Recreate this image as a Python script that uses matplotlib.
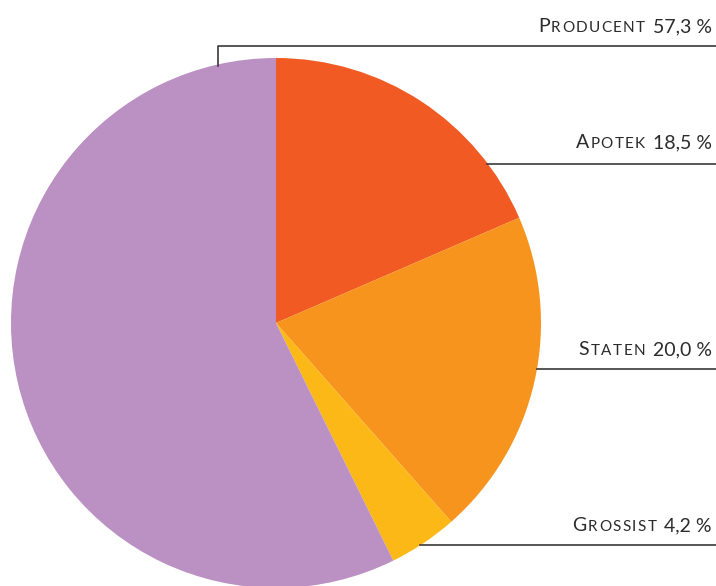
import matplotlib
matplotlib.use("Agg")
import matplotlib.pyplot as plt

# %% data
labels = ["Apotek", "Staten", "Grossist", "Producent"]
shares = [18.5, 20.0, 4.2, 57.3]
share_text = ["18,5 %", "20,0 %", "4,2 %", "57,3 %"]
colors = ["#F15A22", "#F7941D", "#FCB817", "#BB91C3"]

W, H = 716, 586
plt.rcParams["font.family"] = ["Lato", "DejaVu Sans"]

fig = plt.figure(figsize=(W / 100, H / 100), dpi=100)
ax = fig.add_axes([0, 0, 1, 1])
ax.set_xlim(0, W)
ax.set_ylim(0, H)
ax.set_aspect("equal")
ax.axis("off")

cx, cy, r = 276, H - 323, 265
ax.pie(shares, colors=colors, startangle=90, counterclock=False,
       center=(cx, cy), radius=r, wedgeprops=dict(linewidth=0))
ax.set_xlim(0, W)
ax.set_ylim(0, H)

# %% leader lines (pixel rows from top)
line_col = "#3a3a3a"
ax.plot([218, 218, W], [H - 66, H - 46, H - 46], color=line_col, lw=1.2)
ax.plot([487, W], [H - 164, H - 164], color=line_col, lw=1.2)
ax.plot([537, W], [H - 369, H - 369], color=line_col, lw=1.2)
ax.plot([420, W], [H - 545, H - 545], color=line_col, lw=1.2)

# %% small caps labels, right aligned; letters drawn one by one for tracking
renderer = fig.canvas.get_renderer()
big, small = 14, 11
track = 1.4
txt_col = "#2b2b2b"


def left_edge(t):
    bb = t.get_window_extent(renderer)
    return ax.transData.inverted().transform((bb.x0, 0))[0]


def smallcaps(x_right, y_base, word, value):
    t = ax.text(x_right, y_base, value, fontsize=big, color=txt_col, ha="right", va="baseline")
    x = left_edge(t) - 8
    chars = [(word[0].upper(), big)] + [(c, small) for c in word[1:].upper()]
    for s, fs in reversed(chars):
        t = ax.text(x, y_base, s, fontsize=fs, color=txt_col, ha="right", va="baseline")
        x = left_edge(t) - track


smallcaps(712, H - 32, labels[3], share_text[3])
smallcaps(712, H - 148, labels[0], share_text[0])
smallcaps(712, H - 355, labels[1], share_text[1])
smallcaps(712, H - 531, labels[2], share_text[2])

fig.savefig("out.png", dpi=100)
